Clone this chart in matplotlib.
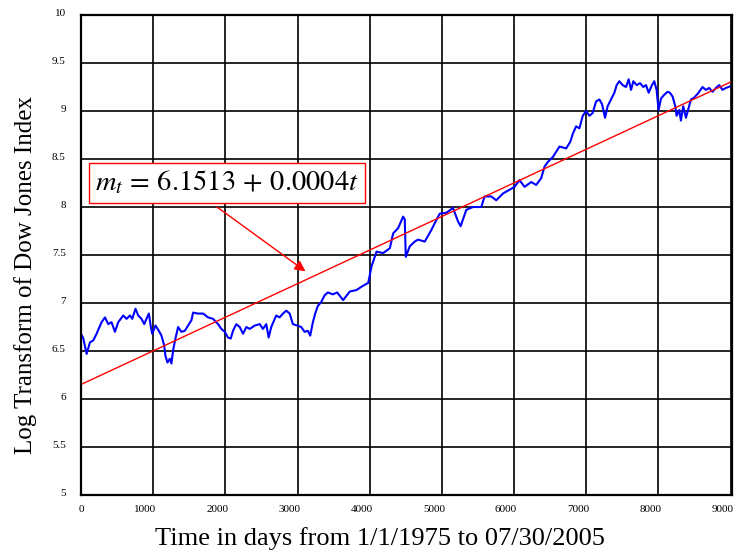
import matplotlib
matplotlib.use("Agg")
import matplotlib.pyplot as plt
import matplotlib.transforms as mtransforms

plt.rcParams['font.family'] = ['Liberation Serif', 'DejaVu Serif']
plt.rcParams['mathtext.fontset'] = 'stix'

# Dados: (dia, log do indice), em tres trechos
trecho_1 = [(0, 6.68), (32, 6.63), (78, 6.47), (124, 6.59), (170, 6.61), (216, 6.68),
            (285, 6.80), (332, 6.85), (378, 6.78), (423, 6.80), (470, 6.70), (516, 6.80),
            (585, 6.87), (631, 6.835), (678, 6.87), (710, 6.835), (755, 6.94), (793, 6.87),
            (838, 6.835), (876, 6.78), (907, 6.835), (940, 6.89), (968, 6.75), (986, 6.68),
            (1032, 6.765), (1079, 6.71), (1115, 6.66), (1152, 6.56), (1170, 6.45),
            (1198, 6.38), (1231, 6.42), (1253, 6.37), (1277, 6.51), (1308, 6.63),
            (1346, 6.75), (1391, 6.70), (1438, 6.71), (1484, 6.765), (1530, 6.82),
            (1553, 6.90), (1622, 6.89), (1692, 6.89), (1761, 6.85), (1830, 6.835),
            (1899, 6.78), (1945, 6.73), (1992, 6.70), (2037, 6.64), (2075, 6.63),
            (2106, 6.71), (2152, 6.78), (2199, 6.75), (2245, 6.68), (2291, 6.75),
            (2338, 6.73), (2407, 6.765), (2476, 6.78), (2521, 6.73), (2567, 6.78),
            (2600, 6.64), (2636, 6.75), (2705, 6.87), (2752, 6.85), (2798, 6.89),
            (2844, 6.92), (2891, 6.89), (2936, 6.78), (2996, 6.765), (3051, 6.75),
            (3098, 6.70), (3144, 6.71), (3176, 6.66), (3213, 6.80), (3245, 6.89),
            (3282, 6.97), (3328, 7.01), (3375, 7.08), (3420, 7.11), (3490, 7.09),
            (3549, 7.11)]
trecho_2 = [(3632, 7.03), (3725, 7.12), (3818, 7.135), (3887, 7.17), (3980, 7.21),
            (4025, 7.38), (4095, 7.535), (4186, 7.52), (4279, 7.57), (4325, 7.725),
            (4394, 7.78), (4463, 7.90), (4486, 7.87), (4500, 7.48), (4555, 7.59),
            (4624, 7.64), (4670, 7.66), (4763, 7.64), (4854, 7.76), (4924, 7.865),
            (4970, 7.93), (5062, 7.94), (5154, 7.99), (5224, 7.85), (5260, 7.80),
            (5338, 7.97), (5431, 8.00), (5546, 8.00), (5592, 8.11), (5685, 8.11),
            (5753, 8.07), (5846, 8.14), (5938, 8.18), (6007, 8.21), (6076, 8.28),
            (6146, 8.21), (6238, 8.26), (6307, 8.23), (6376, 8.30), (6422, 8.42),
            (6469, 8.47), (6537, 8.52), (6630, 8.63), (6722, 8.61), (6780, 8.68)]
trecho_3 = [(6813, 8.76), (6860, 8.84), (6906, 8.82), (6952, 8.95), (6999, 9.00),
            (7044, 8.95), (7090, 8.98), (7137, 9.10), (7183, 9.12), (7220, 9.07),
            (7261, 8.93), (7297, 9.05), (7344, 9.12), (7390, 9.19), (7422, 9.27),
            (7459, 9.31), (7505, 9.27), (7552, 9.25), (7588, 9.33), (7621, 9.22),
            (7653, 9.31), (7699, 9.27), (7746, 9.29), (7791, 9.25), (7829, 9.27),
            (7865, 9.19), (7911, 9.27), (7943, 9.31), (7975, 9.22), (8003, 9.01),
            (8036, 9.13), (8082, 9.17), (8127, 9.20), (8160, 9.19), (8197, 9.15),
            (8234, 9.05), (8252, 8.95), (8289, 9.01), (8312, 8.90), (8344, 9.05),
            (8382, 8.93), (8418, 9.03), (8451, 9.12), (8497, 9.14), (8556, 9.19),
            (8611, 9.25), (8658, 9.22), (8704, 9.24), (8750, 9.20), (8797, 9.24),
            (8842, 9.27), (8888, 9.22), (8935, 9.24), (8990, 9.255)]

pontos = trecho_1 + trecho_2 + trecho_3
days = [p[0] for p in pontos]
log_dow = [p[1] for p in pontos]

# Reta de tendencia
trend_days = [0, 9020]
trend_vals = [6.1513, 6.1513 + 0.00035 * 9020]

fig = plt.figure(figsize=(7.38, 5.57), dpi=100)
ax = fig.add_axes([81 / 738, 1 - 495 / 557, 651 / 738, 480 / 557])

ax.plot(days, log_dow, color='#0000ff', linewidth=1.5)
ax.plot(trend_days, trend_vals, color='#ff0000', linewidth=1)

ax.set_xlim(0, 9020)
ax.set_ylim(5, 10)
ax.set_xticks(range(0, 9001, 1000))
ax.set_yticks([5, 5.5, 6, 6.5, 7, 7.5, 8, 8.5, 9, 9.5, 10])
ax.set_yticklabels(['5', '5.5', '6', '6.5', '7', '7.5', '8', '8.5', '9', '9.5', '10'])
ax.grid(True, color='black', linewidth=1.2)
ax.set_axisbelow(True)
for s in ax.spines.values():
    s.set_linewidth(1.6)
ax.tick_params(length=0, labelsize=8)
ax.tick_params(axis='y', pad=11)
ax.tick_params(axis='x', pad=7)

# Rotulos dos ticks levemente deslocados, como no original
dx = mtransforms.ScaledTranslation(3 / 100, 0, fig.dpi_scale_trans)
for t in ax.xaxis.get_major_ticks():
    t.label1.set_horizontalalignment('right')
    t.label1.set_transform(t.label1.get_transform() + dx)
dy = mtransforms.ScaledTranslation(0, 3 / 100, fig.dpi_scale_trans)
for t in ax.yaxis.get_major_ticks():
    t.label1.set_transform(t.label1.get_transform() + dy)

ax.set_xlabel('Time in days from 1/1/1975 to 07/30/2005', fontsize=19)
ax.xaxis.set_label_coords(0.459, -0.066)
ax.set_ylabel('Log Transform of Dow Jones Index', fontsize=18)
ax.yaxis.set_label_coords(-0.068, 0.458)

# Caixa com a equacao e a seta
ax.text(2020, 8.25, r'$m_t \,=\, 6.1513 \,+\, 0.0004t$', fontsize=20.5, ha='center', va='center',
        bbox=dict(boxstyle='square,pad=0.22', facecolor='white', edgecolor='#ff0000', linewidth=1))
ax.annotate('', xy=(3110, 7.33), xytext=(1885, 8.0),
            arrowprops=dict(arrowstyle='-|>', color='#ff0000', lw=1, mutation_scale=16,
                            shrinkA=0, shrinkB=0))

plt.savefig('out.png', dpi=100)
